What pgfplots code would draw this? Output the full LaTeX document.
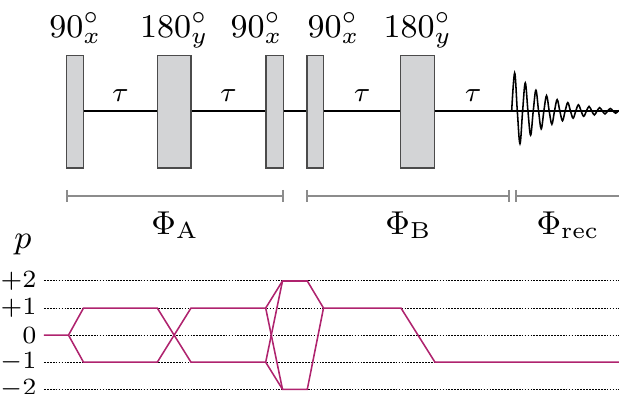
\RequirePackage{fix-cm}
\documentclass[border=0pt]{standalone}
\usepackage{pgfplots}
\pgfplotsset{compat=1.18}
\definecolor{pathc}{RGB}{175,35,110}
\definecolor{pulsefill}{RGB}{211,212,214}
\definecolor{pulsedraw}{RGB}{75,75,75}
\definecolor{brack}{RGB}{140,140,140}
\begin{document}
\begin{tikzpicture}
% ---------- pulse sequence (pixel-like units, y downwards) ----------
\begin{axis}[name=seq, at={(0,0)}, anchor=south west, scale only axis,
  width=179.51pt, height=114.26pt, xmin=0, xmax=619, ymin=0, ymax=394,
  y dir=reverse, hide axis, clip=false]
% baseline
\addplot[black, line width=0.38pt] coordinates {(83.7,111)(619,111)};
% pulses
\addplot[fill=pulsefill, draw=pulsedraw, line width=0.35pt] coordinates {(66.8,55.5)(83.7,55.5)(83.7,168)(66.8,168)} -- cycle;
\addplot[fill=pulsefill, draw=pulsedraw, line width=0.35pt] coordinates {(157.3,55.5)(191,55.5)(191,168)(157.3,168)} -- cycle;
\addplot[fill=pulsefill, draw=pulsedraw, line width=0.35pt] coordinates {(266,55.5)(283.3,55.5)(283.3,168)(266,168)} -- cycle;
\addplot[fill=pulsefill, draw=pulsedraw, line width=0.35pt] coordinates {(307,55.5)(323.7,55.5)(323.7,168)(307,168)} -- cycle;
\addplot[fill=pulsefill, draw=pulsedraw, line width=0.35pt] coordinates {(400.7,55.5)(434.7,55.5)(434.7,168)(400.7,168)} -- cycle;
% FID
\addplot[black, line width=0.45pt, smooth, tension=0.6] coordinates {
(511.7,111)(514.66,73.0)(517.32,111)(519.98,143.68)(522.63,111)(525.29,82.90)
(527.95,111)(530.61,135.17)(533.26,111)(535.92,90.21)(538.58,111)(541.24,128.88)
(543.89,111)(546.55,95.63)(549.21,111)(551.87,124.22)(554.52,111)(557.18,99.63)
(559.84,111)(562.50,120.78)(565.15,111)(567.81,102.59)(570.47,111)(573.13,118.23)
(575.78,111)(578.44,104.78)(581.10,111)(583.76,116.35)(586.41,111)(589.07,106.40)
(591.73,111)(594.39,114.96)(597.04,111)(599.70,107.60)(602.36,111)(605.02,113.93)
(607.67,111)(610.33,108.48)(612.99,111)(615.65,113.17)(618.30,111)(619,110.6)};
% pulse labels
\node[anchor=base, font=\fontsize{9.6}{11}\selectfont] at (axis cs:75.3,37.5) {$90^\circ_x$};
\node[anchor=base, font=\fontsize{9.6}{11}\selectfont] at (axis cs:174.2,37.5) {$180^\circ_y$};
\node[anchor=base east, inner sep=0pt, font=\fontsize{9.6}{11}\selectfont] at (axis cs:283.3,37.5) {$90^\circ_x$};
\node[anchor=base west, inner sep=0pt, font=\fontsize{9.6}{11}\selectfont] at (axis cs:307,37.5) {$90^\circ_x$};
\node[anchor=base, font=\fontsize{9.6}{11}\selectfont] at (axis cs:417.7,37.5) {$180^\circ_y$};
% tau labels
\node[anchor=base, font=\fontsize{8}{10}\selectfont] at (axis cs:120.5,101.5) {$\tau$};
\node[anchor=base, font=\fontsize{8}{10}\selectfont] at (axis cs:228.5,101.5) {$\tau$};
\node[anchor=base, font=\fontsize{8}{10}\selectfont] at (axis cs:362.2,101.5) {$\tau$};
\node[anchor=base, font=\fontsize{8}{10}\selectfont] at (axis cs:473.2,101.5) {$\tau$};
% brackets
\addplot[brack, line width=0.35pt] coordinates {(67,196)(283,196)};
\addplot[brack, line width=0.35pt] coordinates {(307,196)(509,196)};
\addplot[brack, line width=0.35pt] coordinates {(516,196)(619,196)};
\addplot[brack, line width=0.65pt] coordinates {(67,190)(67,202)};
\addplot[brack, line width=0.65pt] coordinates {(283,190)(283,202)};
\addplot[brack, line width=0.65pt] coordinates {(307,190)(307,202)};
\addplot[brack, line width=0.65pt] coordinates {(509,190)(509,202)};
\addplot[brack, line width=0.65pt] coordinates {(516,190)(516,202)};
% phase labels
\node[anchor=base, font=\fontsize{9.6}{11}\selectfont] at (axis cs:175,234.5) {$\Phi_{\mathrm{A}}$};
\node[anchor=base, font=\fontsize{9.6}{11}\selectfont] at (axis cs:408.5,234.5) {$\Phi_{\mathrm{B}}$};
\node[anchor=base, font=\fontsize{9.6}{11}\selectfont] at (axis cs:568,234.5) {$\Phi_{\mathrm{rec}}$};
\node[anchor=base, font=\fontsize{9.6}{11}\selectfont] at (axis cs:23,248.5) {$p$};
\end{axis}
% ---------- coherence transfer pathway ----------
\begin{axis}[at={(12.76pt,1.363pt)}, anchor=south west, scale only axis,
  width=166.75pt, height=31.41pt, xmin=44, xmax=619, ymin=-2, ymax=2,
  xtick=\empty, ytick={-2,-1,0,1,2},
  yticklabels={$-2$,$-1$,$0$,$+1$,$+2$},
  axis line style={draw=none}, major tick length=0pt,
  ymajorgrids, grid style={black, line width=0.3pt, dash pattern=on 0.5pt off 0.35pt},
  yticklabel style={font=\fontsize{7.2}{8}\selectfont, inner sep=0pt, xshift=-2pt},
  clip=false]
\addplot[pathc, line width=0.45pt] coordinates {(44,0)(68.5,0)(83.5,1)(157.3,1)(191,-1)(265.7,-1)(282.5,2)(307.3,2)(323.5,1)(401,1)(435,-1)(619,-1)};
\addplot[pathc, line width=0.45pt] coordinates {(68.5,0)(83.5,-1)(157.3,-1)(191,1)(265.7,1)(282.5,-2)(307.3,-2)(323.5,1)};
\addplot[pathc, line width=0.45pt] coordinates {(265.7,1)(282.5,2)};
\addplot[pathc, line width=0.45pt] coordinates {(265.7,-1)(282.5,-2)};
\end{axis}
\pgfresetboundingbox
\useasboundingbox (0,0) rectangle (179.51pt,114.26pt);
\end{tikzpicture}
\end{document}
